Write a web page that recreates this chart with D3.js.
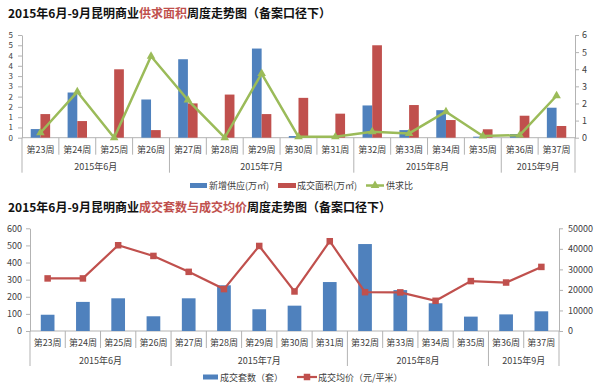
<!DOCTYPE html>
<html><head><meta charset="utf-8">
<script src="https://cdn.jsdelivr.net/npm/d3@7"></script>
<style>
html,body{margin:0;padding:0;background:#fff;}
svg{display:block;}
text{font-family:"Noto Sans CJK SC","Liberation Sans",sans-serif;}
</style></head>
<body>
<svg id="c" width="600" height="391"></svg>
<script>
// ---------- data ----------
const weeks = ["第23周","第24周","第25周","第26周","第27周","第28周","第29周","第30周","第31周","第32周","第33周","第34周","第35周","第36周","第37周"];
const monthLabels = ["2015年6月","2015年7月","2015年8月","2015年9月"];
const monthWeeks = [4,5,4,2];

// chart 1
const supply = [0.42,2.2,0,1.86,3.82,0,4.34,0.08,0,1.57,0.37,1.34,0.05,0.18,1.46];
const dealArea = [1.15,0.81,3.33,0.37,1.67,2.1,1.15,1.94,1.17,4.5,1.59,0.86,0.41,1.07,0.57];
const ratio = [0.29,2.68,0,4.76,2.2,0,3.75,0.05,0.05,0.35,0.25,1.52,0.1,0.15,2.45];
const leftTicks1 = [0,0.5,1,1.5,2,2.5,3,3.5,4,4.5,5];
const leftLabels1 = ["0","1","1","2","2","3","3","4","4","5","5"];
const rightTicks1 = [0,1,2,3,4,5,6];

// chart 2
const counts = [95,170,191,86,191,267,127,148,286,508,239,162,84,97,115];
const price = [25600,25600,41750,36550,28800,20400,41400,19250,43700,18900,18800,14700,24300,23600,31200];
const leftTicks2 = [0,100,200,300,400,500,600];
const rightTicks2 = [0,10000,20000,30000,40000,50000];

const titles = [
  ["2015年6月-9月昆明商业","供求面积","周度走势图（备案口径下）"],
  ["2015年6月-9月昆明商业","成交套数与成交均价","周度走势图（备案口径下）"]
];
const legend1 = ["新增供应(万㎡)","成交面积(万㎡)","供求比"];
const legend2 = ["成交套数（套）","成交均价（元/平米）"];

// ---------- style ----------
const BLUE="#4f81bd", RED="#c0504d", GREEN="#9bbb59", AX="#b3b3b3", TXT="#404040";
const svg = d3.select("#c");

function title(y, parts){
  const t = svg.append("text").attr("x",8).attr("y",y)
    .attr("font-size",12).attr("font-weight","bold").attr("fill","#111");
  t.append("tspan").text(parts[0]);
  t.append("tspan").attr("fill",RED).text(parts[1]);
  t.append("tspan").text(parts[2]);
}

function categoryAxis(g, x, y0, sepLen, monLen, weekY, monY){
  const bw = x.bandwidth();
  g.selectAll("text.wk").data(weeks).join("text")
    .attr("x",d=>x(d)+bw/2).attr("y",weekY).attr("text-anchor","middle")
    .attr("font-size",9).attr("fill",TXT).attr("dominant-baseline","central").text(d=>d);
  let idx=0; const monthEnds=new Set([0]);
  monthWeeks.forEach(n=>{idx+=n; monthEnds.add(idx);});
  for(let i=0;i<=weeks.length;i++){
    const xx = i<weeks.length ? x(weeks[i]) : x(weeks[weeks.length-1])+bw;
    g.append("line").attr("x1",xx).attr("x2",xx).attr("y1",y0)
      .attr("y2",y0+(monthEnds.has(i)?monLen:sepLen)).attr("stroke",AX).attr("stroke-width",1);
  }
  idx=0;
  monthWeeks.forEach((n,k)=>{
    const a = x(weeks[idx]); const b = x(weeks[idx+n-1])+bw;
    g.append("text").attr("x",(a+b)/2).attr("y",monY).attr("text-anchor","middle")
      .attr("dominant-baseline","central").attr("font-size",9).attr("fill",TXT).text(monthLabels[k]);
    idx+=n;
  });
  g.append("line").attr("x1",x.range()[0]).attr("x2",x.range()[1]).attr("y1",y0).attr("y2",y0)
    .attr("stroke",AX);
}

function styleAxis(sel, fs){
  sel.select(".domain").attr("stroke",AX);
  sel.selectAll(".tick line").attr("stroke",AX);
  sel.selectAll(".tick text").attr("fill",TXT).attr("font-size",fs||9)
    .attr("font-family","'Liberation Sans',sans-serif");
}

// ---------- chart 1 ----------
title(18, titles[0]);
{
  const L=22, R=575, T=35, B=137.7;
  const x = d3.scaleBand().domain(weeks).range([L,R]).padding(0);
  const yL = d3.scaleLinear().domain([0,5]).range([B,T]);
  const yR = d3.scaleLinear().domain([0,6]).range([B,T]);
  const g = svg.append("g");

  const aL = g.append("g").attr("transform",`translate(${L},0)`)
    .call(d3.axisLeft(yL).tickValues(leftTicks1).tickFormat((d,i)=>leftLabels1[i]).tickSize(4).tickSizeOuter(0).tickPadding(5));
  styleAxis(aL, 8);
  const aR = g.append("g").attr("transform",`translate(${R},0)`)
    .call(d3.axisRight(yR).tickValues(rightTicks1).tickFormat(d3.format("d")).tickSize(4).tickSizeOuter(0).tickPadding(3));
  styleAxis(aR, 9);

  categoryAxis(g, x, B, 17, 35, 149, 166.5);

  const bw = 9.7;
  g.selectAll("rect.s").data(supply).join("rect")
    .attr("x",(d,i)=>x(weeks[i])+x.bandwidth()/2-bw).attr("width",bw)
    .attr("y",d=>yL(d)).attr("height",d=>B-yL(d)).attr("fill",BLUE);
  g.selectAll("rect.d").data(dealArea).join("rect")
    .attr("x",(d,i)=>x(weeks[i])+x.bandwidth()/2).attr("width",bw)
    .attr("y",d=>yL(d)).attr("height",d=>B-yL(d)).attr("fill",RED);

  const line = d3.line().x((d,i)=>x(weeks[i])+x.bandwidth()/2).y(d=>yR(d));
  g.append("path").datum(ratio).attr("d",line).attr("fill","none")
    .attr("stroke",GREEN).attr("stroke-width",2.5).attr("stroke-linejoin","round");
  const tri = d3.symbol().type(d3.symbolTriangle).size(32);
  g.selectAll("path.m").data(ratio).join("path")
    .attr("transform",(d,i)=>`translate(${x(weeks[i])+x.bandwidth()/2},${yR(d)})`)
    .attr("d",tri).attr("fill",GREEN);

  const ly=185.5;
  const lg = svg.append("g").attr("font-size",9).attr("fill",TXT);
  lg.append("rect").attr("x",190).attr("y",ly-2.5).attr("width",17).attr("height",5).attr("fill",BLUE);
  lg.append("text").attr("x",209).attr("y",ly).attr("dominant-baseline","central").attr("fill",TXT).text(legend1[0]);
  lg.append("rect").attr("x",278).attr("y",ly-2.5).attr("width",18).attr("height",5).attr("fill",RED);
  lg.append("text").attr("x",297).attr("y",ly).attr("dominant-baseline","central").attr("fill",TXT).text(legend1[1]);
  lg.append("line").attr("x1",366).attr("x2",384).attr("y1",ly).attr("y2",ly).attr("stroke",GREEN).attr("stroke-width",2.5);
  lg.append("path").attr("transform",`translate(375,${ly})`).attr("d",tri).attr("fill",GREEN);
  lg.append("text").attr("x",386).attr("y",ly).attr("dominant-baseline","central").attr("fill",TXT).text(legend1[2]);
}

// ---------- chart 2 ----------
title(212, titles[1]);
{
  const L=30, R=559, T=228.3, B=331;
  const x = d3.scaleBand().domain(weeks).range([L,R]).padding(0);
  const yL = d3.scaleLinear().domain([0,600]).range([B,T]);
  const yR = d3.scaleLinear().domain([0,50000]).range([B,T]);
  const g = svg.append("g");

  const aL = g.append("g").attr("transform",`translate(${L},0)`)
    .call(d3.axisLeft(yL).tickValues(leftTicks2).tickFormat(d3.format("d")).tickSize(4).tickSizeOuter(0).tickPadding(4));
  styleAxis(aL, 9);
  const aR = g.append("g").attr("transform",`translate(${R},0)`)
    .call(d3.axisRight(yR).tickValues(rightTicks2).tickFormat(d3.format("d")).tickSize(4).tickSizeOuter(0).tickPadding(5));
  styleAxis(aR, 9);

  categoryAxis(g, x, B, 17, 35, 342, 360);

  const bw = 13.7;
  g.selectAll("rect.c").data(counts).join("rect")
    .attr("x",(d,i)=>x(weeks[i])+x.bandwidth()/2-bw/2).attr("width",bw)
    .attr("y",d=>yL(d)).attr("height",d=>B-yL(d)).attr("fill",BLUE);

  const line = d3.line().x((d,i)=>x(weeks[i])+x.bandwidth()/2).y(d=>yR(d));
  g.append("path").datum(price).attr("d",line).attr("fill","none")
    .attr("stroke",RED).attr("stroke-width",2.2);
  const sq=6.5;
  g.selectAll("rect.m").data(price).join("rect")
    .attr("x",(d,i)=>x(weeks[i])+x.bandwidth()/2-sq/2).attr("y",d=>yR(d)-sq/2)
    .attr("width",sq).attr("height",sq).attr("fill",RED);

  const ly=377;
  const lg = svg.append("g").attr("font-size",9);
  lg.append("rect").attr("x",203).attr("y",ly-2.5).attr("width",15).attr("height",5).attr("fill",BLUE);
  lg.append("text").attr("x",220).attr("y",ly).attr("dominant-baseline","central").attr("fill",TXT).text(legend2[0]);
  lg.append("line").attr("x1",297).attr("x2",317).attr("y1",ly).attr("y2",ly).attr("stroke",RED).attr("stroke-width",2.2);
  lg.append("rect").attr("x",307-3.25).attr("y",ly-3.25).attr("width",6.5).attr("height",6.5).attr("fill",RED);
  lg.append("text").attr("x",318).attr("y",ly).attr("dominant-baseline","central").attr("fill",TXT).text(legend2[1]);
}
</script>
</body></html>
